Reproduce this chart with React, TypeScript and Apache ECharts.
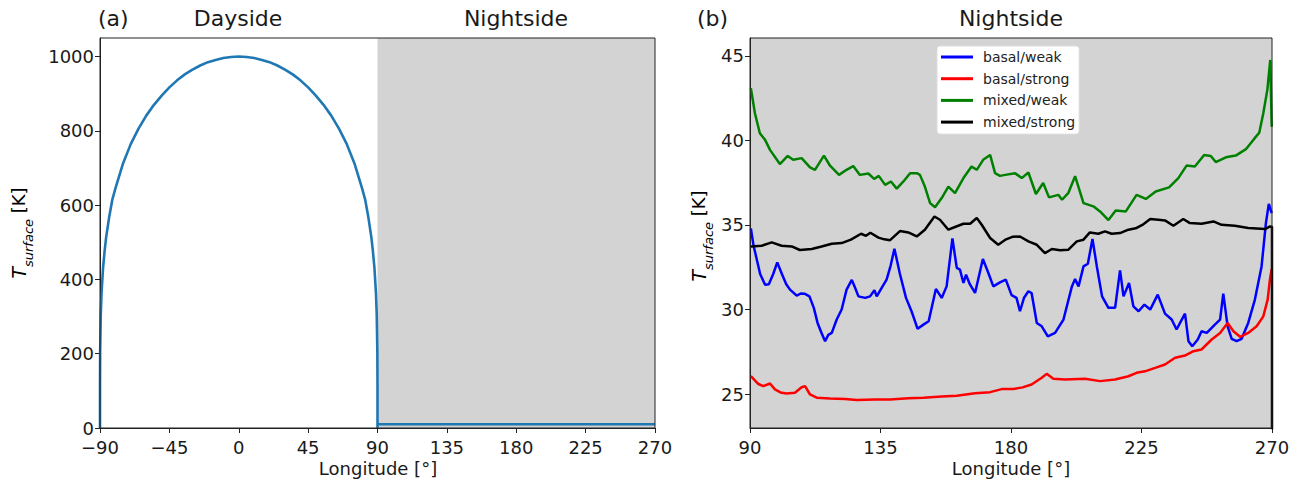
import React, { useEffect, useRef } from "react";
import * as echarts from "echarts";

const FONT = "DejaVu Sans";

// Panel (a): longitude, surface temperature
const dayLon = [-90, -89.99, -89.9, -89.5, -89, -88, -87, -86, -84, -82, -80, -75, -70, -65, -60, -55, -50, -45, -40, -35, -30, -25, -20, -15, -10, -5, 0,
  5, 10, 15, 20, 25, 30, 35, 40, 45, 50, 55, 60, 65, 70, 75, 80, 82, 84, 86, 87, 88, 89, 89.5, 89.9, 89.99, 90, 90, 270];
const dayT = [0, 115, 204, 306, 363, 432, 477, 514, 569, 615, 645, 713, 765, 806, 841, 870, 895, 917, 936, 952, 965, 976, 985, 991, 996, 999, 1000,
  999, 996, 991, 985, 976, 965, 952, 936, 917, 895, 870, 841, 806, 765, 713, 645, 615, 569, 514, 477, 432, 363, 306, 204, 115, 0, 10, 10];

// Panel (b)
const seriesNames = ["basal/weak", "basal/strong", "mixed/weak", "mixed/strong"];
const seriesColors = ["#0000ff", "#ff0000", "#008000", "#000000"];

const basalWeak = [[90.3,34.8],[91.2,33.8],[92.1,33.14],[93.5,32.1],[95.2,31.47],[96.5,31.5],[98,32.1],[99.4,32.79],[101,32.1],[102.5,31.5],[103.8,31.18],[106.1,30.82],[107.5,30.95],[108.8,30.94],[110.5,30.78],[112,30.1],[113.3,29.21],[114.7,28.6],[115.9,28.13],[117,28.5],[118.2,28.62],[119.9,29.41],[121.6,30.0],[123.3,31.18],[125.1,31.75],[126.2,31.3],[127.4,30.78],[129.7,30.69],[131.4,30.78],[132.9,31.14],[133.7,30.78],[135.4,31.28],[137.1,31.77],[138.5,32.6],[139.8,33.6],[141.7,32.1],[143.8,30.69],[145.7,29.9],[147.8,28.86],[149.8,29.11],[151.6,29.31],[154.1,31.22],[156.1,30.69],[157.8,31.37],[159.8,34.2],[161.3,32.46],[162.4,32.36],[163.6,31.57],[164.5,32.06],[165.8,31.5],[167.6,30.98],[170.3,32.99],[172.2,32.16],[173.9,31.37],[176.2,31.61],[178.2,31.77],[180.2,30.85],[181.9,30.69],[183.1,29.9],[184.5,30.7],[186,31.08],[187.1,30.98],[188.9,29.21],[190.6,29.01],[192.7,28.42],[195.2,28.62],[198.1,29.41],[201,31.37],[202.1,31.8],[203.3,31.37],[205,32.55],[206.5,32.71],[208.1,34.17],[209.6,32.55],[211.4,30.78],[213.6,30.1],[215.9,30.1],[217.6,32.32],[218.8,30.78],[220.7,31.57],[222.2,30.19],[224,29.9],[226,30.29],[228,30.0],[230.6,30.88],[233.1,29.76],[235.4,29.41],[237.1,28.82],[238.3,29.21],[240,29.76],[241.2,28.13],[242.5,27.83],[244.4,28.23],[245.7,28.72],[247.5,28.62],[250.3,29.11],[252.1,29.41],[253.2,30.94],[254.7,29.01],[256.1,28.27],[257.8,28.13],[259.5,28.27],[261.8,29.21],[264.1,30.59],[266.4,32.55],[267.9,35.11],[268.9,36.25],[269.9,35.7]];

const basalStrong = [[90.3,26.06],[92.9,25.6],[94.6,25.47],[96.9,25.63],[98.6,25.28],[100.5,25.1],[102.6,25.04],[105.5,25.08],[107.8,25.41],[109,25.47],[110.7,24.98],[113,24.79],[117.6,24.75],[122.8,24.72],[126.8,24.65],[133.1,24.68],[138.3,24.69],[144.6,24.76],[149.8,24.79],[156.1,24.86],[161.3,24.9],[167.6,25.05],[172.8,25.12],[176.8,25.3],[180.8,25.3],[184,25.4],[187.1,25.57],[190.6,25.97],[192.3,26.2],[194.6,25.91],[198.6,25.87],[205.5,25.91],[210.7,25.77],[215.9,25.87],[220.5,26.06],[223.3,26.26],[226.2,26.35],[229.7,26.55],[233.1,26.75],[236.6,27.15],[240,27.28],[242.9,27.54],[245.7,27.64],[249.2,28.23],[252.1,28.62],[254.7,29.21],[256.7,28.72],[259,28.39],[261.8,28.62],[264.7,29.01],[267,29.6],[268.5,30.59],[269.3,31.8],[269.9,32.4]];

const mixedWeak = [[90.3,43.08],[91.7,41.6],[93.4,40.42],[95.2,40.03],[96.9,39.44],[100.3,38.6],[103,39.08],[104.9,38.85],[107.8,38.95],[110.7,38.4],[112.4,38.26],[115.5,39.1],[117.6,38.5],[120.7,37.96],[123.3,38.26],[125.6,38.48],[127.9,37.96],[130.8,38.04],[132.8,37.72],[134.4,37.9],[136.6,37.37],[138.6,37.57],[140.6,37.15],[142.9,37.57],[145.2,38.06],[147.5,38.06],[148.6,37.96],[150.3,37.27],[152.1,36.29],[153.8,36.05],[156.1,36.59],[158.4,37.27],[160.7,36.88],[163.6,37.77],[166.4,38.45],[168.2,38.26],[170.4,38.85],[172.8,39.14],[174.5,38.06],[176.2,37.9],[178,37.96],[181.4,38.06],[183.7,37.77],[186,38.1],[188.6,36.83],[191.1,37.48],[193.1,36.63],[196.3,36.78],[197.6,36.49],[199.8,36.9],[202.1,37.88],[205,36.29],[208.4,36.1],[210.7,35.8],[213.6,35.29],[216.1,35.85],[219.6,35.8],[223.3,36.78],[226.5,36.54],[229.9,36.98],[234.5,37.22],[237.7,37.77],[240.6,38.52],[243.4,38.45],[246.6,39.14],[248.9,39.08],[250.6,38.72],[254.1,39.0],[257.5,39.1],[261,39.48],[263.9,40.1],[265.6,40.45],[267,41.6],[268.4,43.0],[269.4,44.75],[269.9,40.8]];

const mixedStrong = [[90.3,33.73],[94,33.77],[97.5,33.97],[100.9,33.77],[104.4,33.73],[107.2,33.52],[111.3,33.58],[114.7,33.73],[118.2,33.89],[121.6,33.93],[124.8,34.13],[128.3,34.48],[130,34.36],[131.5,34.54],[134.3,34.25],[136.3,34.15],[138.3,34.1],[141.7,34.64],[144.6,34.56],[147.5,34.32],[150.3,34.72],[153.6,35.5],[155.5,35.31],[158.4,34.72],[160.7,34.88],[163.6,35.07],[165.9,35.07],[168.2,35.41],[169.9,35.01],[172.8,34.23],[175.6,33.83],[178.3,34.15],[180.5,34.3],[183.1,34.32],[186,34.03],[188.9,33.83],[191.7,33.34],[194.1,33.58],[196.9,33.5],[199.8,33.54],[202.7,34.03],[205,34.13],[207.2,34.56],[210.1,34.48],[212.4,34.62],[214.7,34.48],[217.6,34.52],[220.5,34.72],[223,34.8],[225.3,35.0],[228,35.35],[230.8,35.31],[233.1,35.27],[236,34.95],[239.4,35.35],[241.7,35.11],[245.7,35.07],[249.8,35.21],[252.6,35.01],[257.2,34.95],[261.8,34.82],[267.6,34.76],[269.3,34.91],[270,34.9],[270,0]];

const yTicksA = [0, 200, 400, 600, 800, 1000];
const yTicksB = [25, 30, 35, 40, 45];

const GA = { left: 100, top: 38, width: 555, height: 390 };
const GB = { left: 750, top: 38, width: 522, height: 390 };

const axisCommon = {
  axisLine: { show: true, onZero: false, lineStyle: { color: "#222", width: 1 } },
  axisTick: { show: true, length: 5, lineStyle: { color: "#222", width: 1 } },
  axisLabel: { color: "#1a1a1a", fontSize: 18, lineHeight: 18, fontFamily: FONT, margin: 6 },
  splitLine: { show: false },
};

const yRich = {
  t: { fontSize: 19, fontStyle: "italic", fontFamily: FONT, color: "#1a1a1a", lineHeight: 26, verticalAlign: "top" },
  s: { fontSize: 13, fontStyle: "italic", fontFamily: FONT, color: "#1a1a1a", lineHeight: 13, verticalAlign: "bottom" },
  k: { fontSize: 18, fontFamily: FONT, color: "#1a1a1a", lineHeight: 26, verticalAlign: "top" },
};

function txt(x: number, y: number, text: string, size: number, align = "center") {
  return {
    type: "text",
    x,
    y,
    z: 110,
    style: { text, fontSize: size, fontFamily: FONT, fill: "#1a1a1a", align, verticalAlign: "middle" },
  };
}

function ylabel(x: number, y: number) {
  return {
    type: "text",
    x,
    y,
    rotation: Math.PI / 2,
    z: 110,
    style: {
      text: "{t|T}{s|surface}{k| [K]}",
      rich: yRich,
      align: "center",
      verticalAlign: "middle",
    },
  };
}

function frame(g: { left: number; top: number; width: number; height: number }) {
  return {
    type: "rect",
    z: 100,
    silent: true,
    shape: { x: g.left, y: g.top, width: g.width, height: g.height },
    style: { fill: "none", stroke: "#222", lineWidth: 1 },
  };
}

export default function App() {
  const ref = useRef<HTMLDivElement>(null);
  useEffect(() => {
    if (!ref.current) return;
    const chart = echarts.init(ref.current, null, { renderer: "svg" });
    const lineA = dayLon.map((x, i) => [x, dayT[i]]);
    const dataB = [basalWeak, basalStrong, mixedWeak, mixedStrong];
    const plain = (v: number) => String(v).replace("-", "\u2212");
    chart.setOption({
      animation: false,
      backgroundColor: "#ffffff",
      grid: [
        { ...GA, show: true, backgroundColor: "#ffffff", borderWidth: 0 },
        { ...GB, show: true, backgroundColor: "#d3d3d3", borderWidth: 0 },
      ],
      xAxis: [
        {
          ...axisCommon,
          gridIndex: 0,
          type: "value",
          min: -90,
          max: 270,
          interval: 45,
          axisLabel: { ...axisCommon.axisLabel, margin: 10, formatter: plain },
        },
        {
          ...axisCommon,
          gridIndex: 1,
          type: "value",
          min: 90,
          max: 270,
          interval: 45,
          axisLabel: { ...axisCommon.axisLabel, margin: 10, formatter: plain },
        },
      ],
      yAxis: [
        {
          ...axisCommon,
          gridIndex: 0,
          type: "value",
          min: 0,
          max: 1050,
          axisTick: { ...axisCommon.axisTick, customValues: yTicksA },
          axisLabel: { ...axisCommon.axisLabel, customValues: yTicksA, formatter: plain },
        },
        {
          ...axisCommon,
          gridIndex: 1,
          type: "value",
          min: 23,
          max: 46.05,
          axisTick: { ...axisCommon.axisTick, customValues: yTicksB },
          axisLabel: { ...axisCommon.axisLabel, customValues: yTicksB, formatter: plain },
        },
      ],
      legend: {
        show: true,
        data: seriesNames.map((n, i) => ({ name: n, icon: "rect", itemStyle: { color: seriesColors[i] } })),
        orient: "vertical",
        left: 937,
        top: 46,
        backgroundColor: "#ffffff",
        borderColor: "#dddddd",
        borderWidth: 1,
        borderRadius: 3,
        padding: [4, 4, 5, 4],
        itemWidth: 32,
        itemHeight: 3,
        itemGap: 7.7,
        textStyle: { fontSize: 14, lineHeight: 14, fontFamily: FONT, color: "#222", padding: [0, 0, 0, 5] },
      },
      series: [
        {
          type: "line",
          name: "panel-a",
          xAxisIndex: 0,
          yAxisIndex: 0,
          data: lineA,
          symbol: "none",
          lineStyle: { color: "#1f77b4", width: 2.6 },
          z: 5,
          markArea: {
            silent: true,
            itemStyle: { color: "#d3d3d3" },
            data: [[{ xAxis: 90 }, { xAxis: 270 }]],
            z: 1,
          },
        },
        ...dataB.map((d, i) => ({
          type: "line",
          name: seriesNames[i],
          xAxisIndex: 1,
          yAxisIndex: 1,
          data: d,
          symbol: "none",
          clip: true,
          lineStyle: { color: seriesColors[i], width: 2.5 },
          itemStyle: { color: seriesColors[i] },
        })),
      ],
      graphic: [
        frame(GA),
        frame(GB),
        txt(98, 18, "(a)", 22, "left"),
        txt(238, 18, "Dayside", 22),
        txt(516, 18, "Nightside", 22),
        txt(697, 18, "(b)", 22, "left"),
        txt(1011, 18, "Nightside", 22),
        txt(378, 468, "Longitude [°]", 18),
        txt(1011, 468, "Longitude [°]", 18),
        ylabel(22, 233),
        ylabel(702, 236),
      ],
    });
    return () => chart.dispose();
  }, []);
  return (
    <div
      ref={ref}
      style={{ position: "fixed", left: 0, top: 0, width: 1301, height: 485, background: "#fff" }}
    />
  );
}
